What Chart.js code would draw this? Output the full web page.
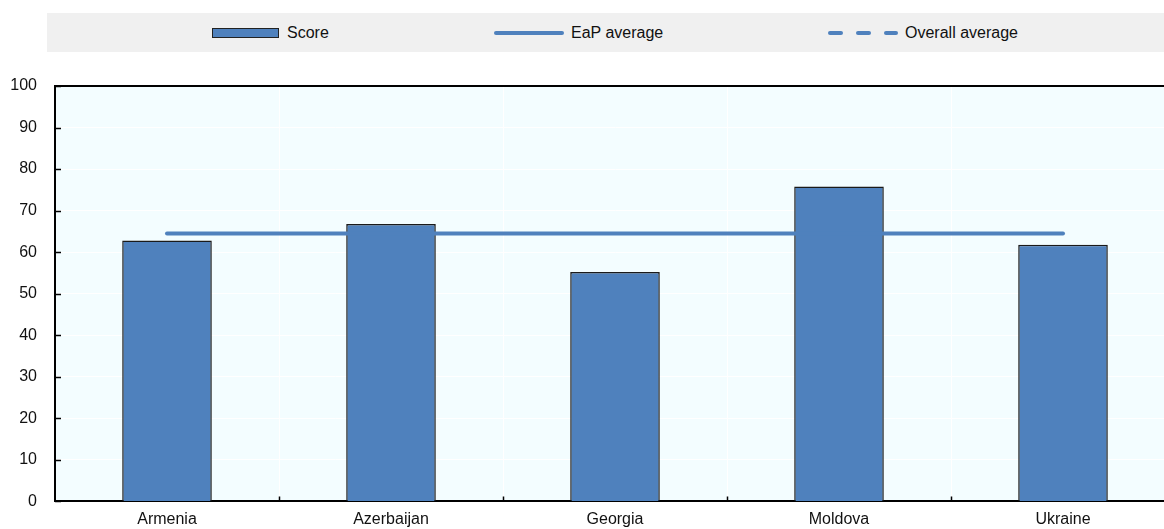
<!DOCTYPE html>
<html>
<head>
<meta charset="utf-8">
<script src="https://cdn.jsdelivr.net/npm/chart.js@4.4.1/dist/chart.umd.min.js"></script>
<style>
  html, body { margin: 0; padding: 0; background: #fff; overflow: hidden; }
  body { width: 1164px; height: 529px; position: relative; font-family: "Liberation Sans", Arial, sans-serif; }
  #wrap { position: absolute; left: 0; top: 0; width: 1176px; height: 529px; }
  #legend { position: absolute; left: 47px; top: 13px; width: 1117px; height: 39px; background: #f0f0f0; }
  #legend .txt { position: absolute; top: 10px; font-size: 16px; line-height: 20px; color: #111; transform: scaleY(1.08); }
  #legend .box { position: absolute; left: 165px; top: 15px; width: 65px; height: 8px; background: #4f81bd; border: 1px solid #222; }
  #legend .ln { position: absolute; top: 18px; height: 4px; background: #4f81bd; border-radius: 2px; }
</style>
</head>
<body>
<div id="wrap"><canvas id="chart"></canvas></div>
<div id="legend">
  <div class="box"></div><span class="txt" style="left:240px">Score</span>
  <div class="ln" style="left:447px;width:70px"></div><span class="txt" style="left:524px">EaP average</span>
  <div class="ln" style="left:781px;width:15px"></div>
  <div class="ln" style="left:809px;width:15px"></div>
  <div class="ln" style="left:837px;width:14px"></div>
  <span class="txt" style="left:858px">Overall average</span>
</div>
<script>
// Data
const categories = ['Armenia', 'Azerbaijan', 'Georgia', 'Moldova', 'Ukraine'];
const scores = [62.8, 66.8, 55.2, 75.8, 61.8];
const eapAverage = [64.5, 64.5, 64.5, 64.5, 64.5];
const overallAverage = [64.5, 64.5, 64.5, 64.5, 64.5];
const yTicks = [0, 10, 20, 30, 40, 50, 60, 70, 80, 90, 100];

const blue = '#4f81bd';
const font = { family: '"Liberation Sans", Arial, sans-serif', size: 16 };

// plot background + frame + inward ticks
const frame = {
  id: 'frame',
  beforeDraw(chart) {
    const a = chart.chartArea, c = chart.ctx;
    c.save();
    c.fillStyle = '#f3fdff';
    c.fillRect(a.left, a.top, a.right - a.left, a.bottom - a.top);
    c.restore();
  },
  afterDraw(chart) {
    const a = chart.chartArea, c = chart.ctx;
    const y = chart.scales.y;
    c.save();
    c.strokeStyle = '#000';
    c.lineWidth = 2;
    c.beginPath();
    c.moveTo(a.left - 1, a.top);
    c.lineTo(a.right, a.top);
    c.lineTo(a.right, a.bottom);
    c.stroke();
    c.lineWidth = 1.5;
    c.beginPath();
    y.ticks.forEach(t => {
      const py = Math.round(y.getPixelForValue(t.value)) + 0.5;
      c.moveTo(a.left, py);
      c.lineTo(a.left + 6, py);
    });
    const step = (a.right - a.left) / categories.length;
    for (let i = 1; i < categories.length; i++) {
      const px = Math.round(a.left + i * step) + 0.5;
      c.moveTo(px, a.bottom);
      c.lineTo(px, a.bottom - 5);
    }
    c.stroke();
    c.restore();
  }
};

new Chart(document.getElementById('chart'), {
  type: 'bar',
  data: {
    labels: categories,
    datasets: [
      {
        label: 'EaP average',
        type: 'line',
        data: eapAverage,
        borderColor: blue,
        borderWidth: 4,
        borderCapStyle: 'round',
        pointRadius: 0,
        fill: false,
        order: 1
      },
      {
        label: 'Overall average',
        type: 'line',
        data: overallAverage,
        borderColor: blue,
        borderWidth: 2,
        borderDash: [14, 13],
        pointRadius: 0,
        fill: false,
        order: 2
      },
      {
        label: 'Score',
        data: scores,
        backgroundColor: blue,
        borderColor: '#1a1a1a',
        borderWidth: 1.5,
        barPercentage: 0.4,
        categoryPercentage: 1.0,
        order: 3
      }
    ]
  },
  options: {
    responsive: true,
    maintainAspectRatio: false,
    animation: false,
    layout: { padding: { top: 86, right: 1, left: 0, bottom: 0 } },
    plugins: { legend: { display: false }, tooltip: { enabled: false } },
    scales: {
      x: {
        grid: { color: '#ffffff', lineWidth: 1, drawTicks: false, offset: true },
        border: { color: '#000', width: 2 },
        ticks: { color: '#111', font: font, padding: 9, maxRotation: 0 },
        afterFit(s) { s.height = 27; }
      },
      y: {
        min: 0,
        max: 100,
        grid: { color: '#ffffff', lineWidth: 1, drawTicks: false },
        border: { color: '#000', width: 2 },
        afterBuildTicks(s) { s.ticks = yTicks.map(v => ({ value: v })); },
        ticks: { color: '#111', font: font, padding: 18 },
        afterFit(s) { s.width = 55; }
      }
    }
  },
  plugins: [frame]
});
</script>
</body>
</html>
